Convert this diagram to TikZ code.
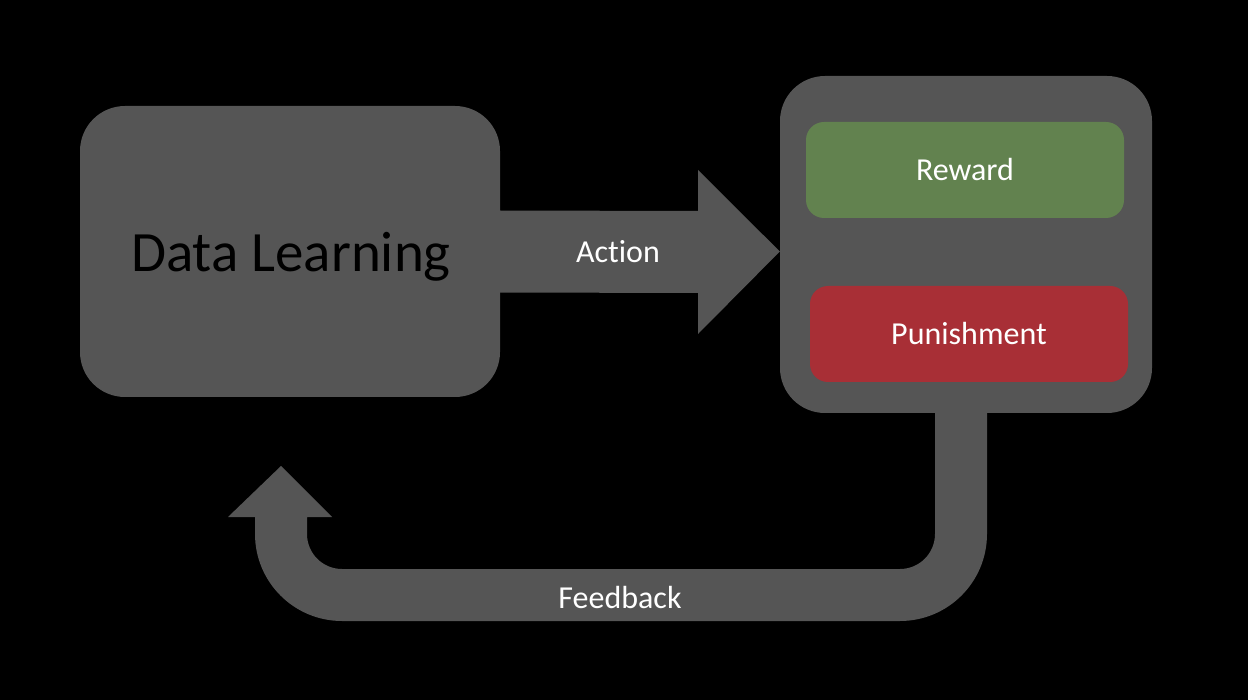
\documentclass[tikz,border=0pt]{standalone}
\usepackage{fontspec}
\setmainfont[Ligatures={NoCommon}]{Carlito}
\usetikzlibrary{calc}
\definecolor{boxgray}{HTML}{555555}
\definecolor{rewardgreen}{HTML}{62824F}
\definecolor{punishred}{HTML}{A82F36}
\tikzset{
  bigbox/.style={fill=boxgray, rounded corners=45pt, inner sep=0pt},
  smallbox/.style={rounded corners=18pt, inner sep=0pt, minimum width=318pt, minimum height=96pt, text=white, font=\fontsize{32}{38}\selectfont},
  lbl/.style={text=white, font=\fontsize{32}{38}\selectfont, inner sep=0pt},
  flow/.style={fill=boxgray}
}
\begin{document}
\begin{tikzpicture}[x=1pt, y=-1pt]
\fill[black] (0,0) rectangle (1248,700);
\useasboundingbox (0,0) rectangle (1248,700);

% Feedback arrow (drawn first, under the box)
\coordinate (fbtop) at (961,400);
\fill[flow] (935,400) -- (935,534) arc (0:90:35) -- (342,569) arc (90:180:35)
  -- (307,517) -- (332,517) coordinate (hr) -- (281,466) coordinate (fbtip) -- (228,517) -- (255,517)
  -- (255,534) arc (180:90:87) -- (900,621) arc (90:0:87) -- (987,400) -- cycle;

\node[bigbox, minimum width=420pt, minimum height=291pt] (dl) at (290,251.5) {};
\node[text=black, font=\fontsize{57}{66}\selectfont, inner sep=0pt] (dltext) at (291,257) {Data Learning};
\node[bigbox, minimum width=372pt, minimum height=337pt] (env) at (966,244.5) {};
\node[smallbox, fill=rewardgreen] (rew) at (965,170) {Reward};
\node[smallbox, fill=punishred] (pun) at (969,334) {Punishment};

% Action arrow
\coordinate (tip) at (env.west |- dl.east);
\fill[flow] ($(dl.east)+(-1,-41)$) -- (698,211) -- (698,170) -- (tip) -- (698,334) -- (698,293) -- ($(dl.east)+(-1,41)$) -- cycle;

\node[lbl] (act) at (618,252) {Action};
\node[lbl] (fb) at (620,598) {Feedback};
\end{tikzpicture}
\end{document}
